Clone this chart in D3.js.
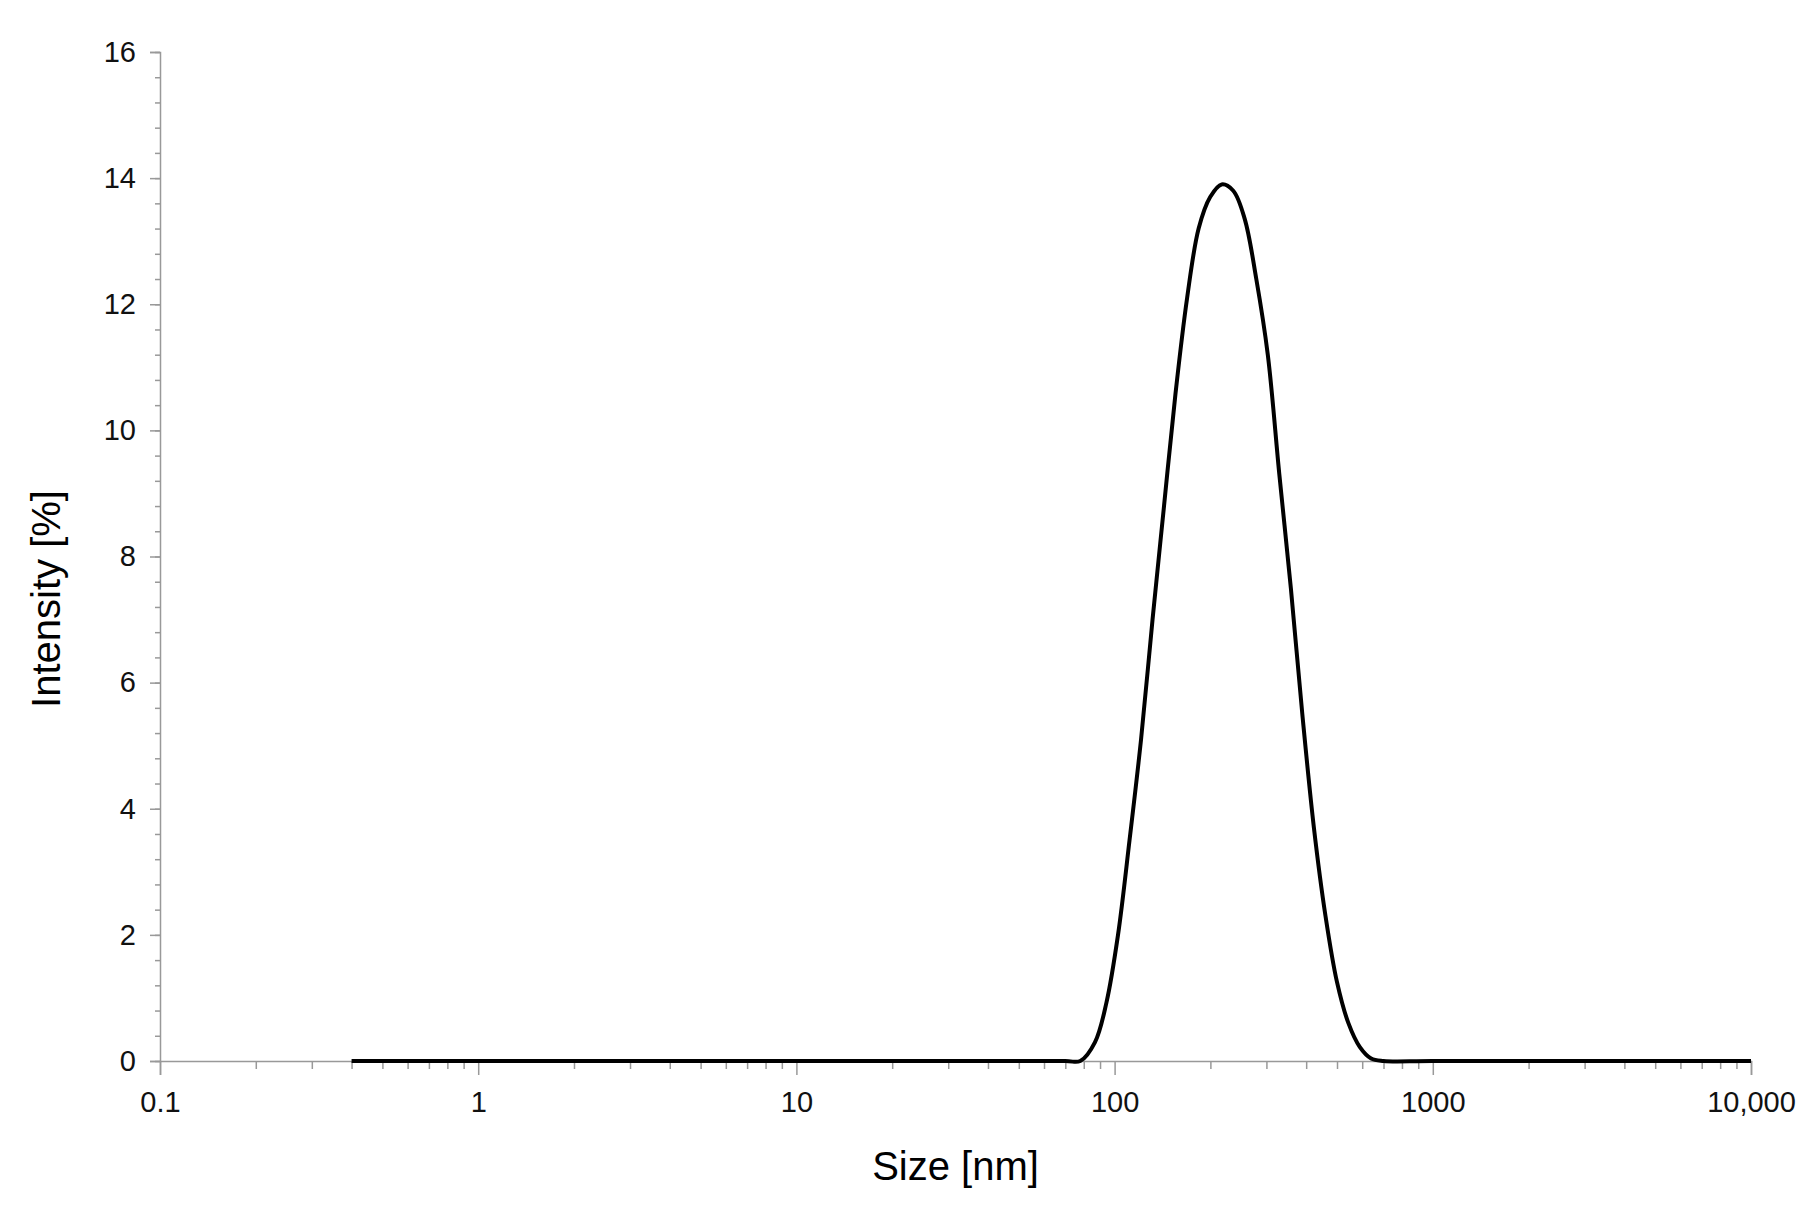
<!DOCTYPE html>
<html><head><meta charset="utf-8">
<script src="https://cdn.jsdelivr.net/npm/d3@7"></script>
<style>body{margin:0;background:#fff}text{font-family:"Liberation Sans",Arial,sans-serif}</style>
</head><body><svg id="c" width="1807" height="1226"></svg>
<script>
const sizes = [0.4, 10, 70, 78, 86.8, 94.3, 102.5, 111.4, 121.1, 131.6, 143, 155.5, 169, 183.7, 199.7, 217, 236, 256.5, 278.8, 303, 329.4, 358, 389, 423, 460, 500, 543, 590, 640, 700, 1000, 10000];
const intensity = [0, 0, 0, 0, 0.3, 0.93, 2.0, 3.5, 5.1, 7.0, 8.8, 10.6, 12.1, 13.2, 13.7, 13.9, 13.8, 13.35, 12.4, 11.2, 9.3, 7.5, 5.5, 3.7, 2.3, 1.25, 0.6, 0.22, 0.04, 0, 0, 0];
const xTicks = [0.1, 1, 10, 100, 1000, 10000];
const xTickLabels = ["0.1", "1", "10", "100", "1000", "10,000"];
const yTicks = [0, 2, 4, 6, 8, 10, 12, 14, 16];

const L=160,R=1751,T=52,B=1061;
const svg=d3.select("#c");
const x=d3.scaleLog().domain([0.1,10000]).range([L,R]);
const y=d3.scaleLinear().domain([0,16]).range([B,T]);
const grey="#999";
const minorX=[];
for(let d=0.1;d<10000;d*=10)for(let k=2;k<=9;k++)minorX.push(d*k);
svg.append("g").attr("transform",`translate(0,${B})`)
 .call(d3.axisBottom(x).tickValues(xTicks).tickFormat((d,i)=>xTickLabels[i]).tickSize(14).tickPadding(16));
svg.append("g").attr("transform",`translate(0,${B})`).call(d3.axisBottom(x).tickValues(minorX).tickSize(8).tickFormat("")).select(".domain").remove();
const minorY=d3.range(0,16.01,0.4);
svg.append("g").attr("transform",`translate(${L},0)`).call(d3.axisLeft(y).tickValues(minorY).tickSize(5).tickFormat("")).select(".domain").remove();
svg.append("g").attr("transform",`translate(${L},0)`).call(d3.axisLeft(y).tickValues(yTicks).tickSize(10).tickPadding(14));
svg.selectAll(".domain,.tick line").attr("stroke",grey).attr("stroke-width",1.5);
svg.selectAll(".tick text").attr("font-size",29).attr("fill","#111");
svg.append("text").attr("x",(L+R)/2).attr("y",1180).attr("text-anchor","middle").attr("font-size",40).text("Size [nm]");
svg.append("text").attr("transform",`translate(60,599) rotate(-90)`).attr("text-anchor","middle").attr("font-size",40).text("Intensity [%]");
const line=d3.line().x((d,i)=>x(sizes[i])).y(d=>y(d)).curve(d3.curveMonotoneX);
svg.append("path").datum(intensity).attr("d",d3.line().x((d,i)=>x(sizes[i])).y(d=>y(d)).curve(d3.curveCatmullRom.alpha(0.5))).attr("fill","none").attr("stroke","#000").attr("stroke-width",4);
</script></body></html>
